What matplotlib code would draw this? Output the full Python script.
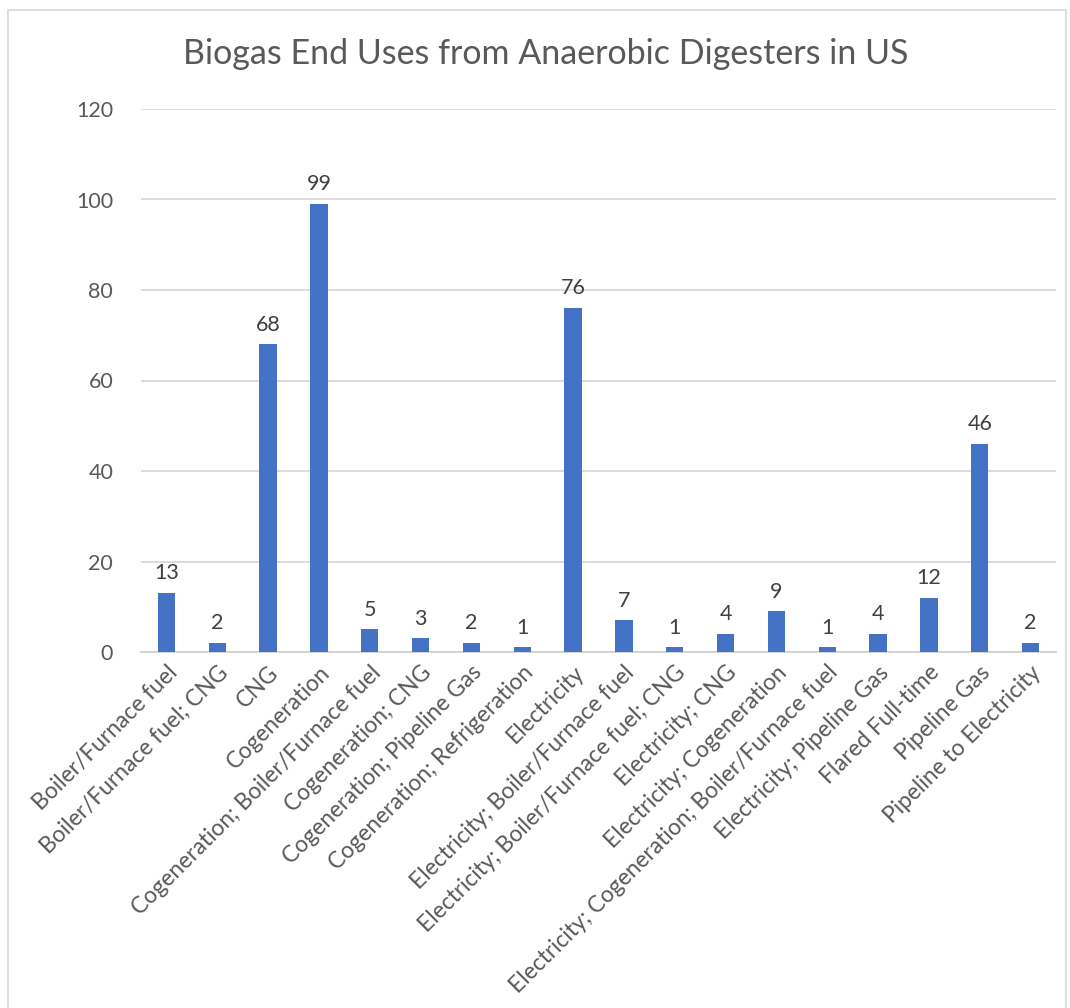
import matplotlib.pyplot as plt
from matplotlib.patches import Rectangle

plt.rcParams['font.family'] = ['Lato', 'DejaVu Sans']

# end use categories and number of digesters
categories = [
    'Boiler/Furnace fuel',
    'Boiler/Furnace fuel; CNG',
    'CNG',
    'Cogeneration',
    'Cogeneration; Boiler/Furnace fuel',
    'Cogeneration; CNG',
    'Cogeneration; Pipeline Gas',
    'Cogeneration; Refrigeration',
    'Electricity',
    'Electricity; Boiler/Furnace fuel',
    'Electricity; Boiler/Furnace fuel; CNG',
    'Electricity; CNG',
    'Electricity; Cogeneration',
    'Electricity; Cogeneration; Boiler/Furnace fuel',
    'Electricity; Pipeline Gas',
    'Flared Full-time',
    'Pipeline Gas',
    'Pipeline to Electricity',
]
counts = [13, 2, 68, 99, 5, 3, 2, 1, 76, 7, 1, 4, 9, 1, 4, 12, 46, 2]
yticks = [0, 20, 40, 60, 80, 100, 120]

fig = plt.figure(figsize=(10.7, 10.08), dpi=100)
ax = fig.add_axes([141/1070, 1 - 652/1008, (1056-141)/1070, (652-109)/1008])

# chart border like the excel frame
fig.patches.append(Rectangle((8/1070, -0.01), (1066-8)/1070, 1 - 10/1008 + 0.01,
                             transform=fig.transFigure, fill=False,
                             edgecolor='#d9d9d9', linewidth=1.2))

x = list(range(len(categories)))
ax.bar(x, counts, width=0.34, color='#4472C4', zorder=3)

for xi, v in zip(x, counts):
    ax.annotate(str(v), (xi, v), xytext=(0, 7), textcoords='offset points',
                ha='center', va='bottom', fontsize=15.5, color='#404040')

ax.set_xlim(-0.5, len(categories) - 0.5)
ax.set_ylim(0, 120)
ax.set_yticks(yticks)
ax.set_yticklabels([str(t) for t in yticks], fontsize=15.5, color='#595959')
ax.grid(axis='y', color='#d9d9d9', linewidth=1.3, zorder=0)

ax.set_xticks(x)
ax.set_xticklabels(categories, rotation=45, ha='right', rotation_mode='anchor',
                   fontsize=16.4, color='#595959')

for s in ['top', 'right', 'left']:
    ax.spines[s].set_visible(False)
ax.spines['bottom'].set_color('#d0d0d0')
ax.spines['bottom'].set_linewidth(1.3)
ax.tick_params(axis='both', length=0)
ax.tick_params(axis='y', pad=20)
ax.tick_params(axis='x', pad=7)

fig.text(546/1070, 1 - 54/1008, 'Biogas End Uses from Anaerobic Digesters in US',
         ha='center', va='center', fontsize=24.5, color='#595959')

fig.savefig('out.png', dpi=100)
